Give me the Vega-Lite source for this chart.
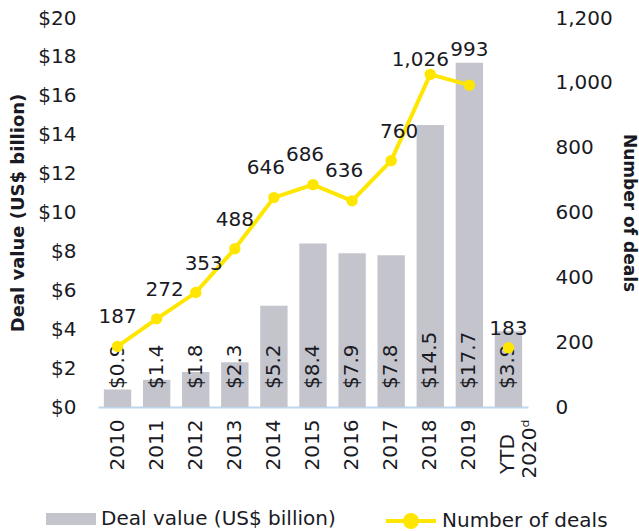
{
  "$schema": "https://vega.github.io/schema/vega-lite/v6.json",
  "width": 430,
  "height": 389,
  "autosize": {"type": "none"},
  "padding": {"left": 98, "top": 18, "right": 111, "bottom": 124},
  "background": "white",
  "config": {
    "view": {"stroke": null},
    "font": "DejaVu Sans",
    "axis": {"labelFont": "DejaVu Sans", "titleFont": "DejaVu Sans", "labelColor": "#1a1a24", "titleColor": "#1a1a24", "grid": false, "ticks": false},
    "legend": {"labelFont": "DejaVu Sans", "labelColor": "#1a1a24"},
    "text": {"fontSize": 20, "color": "#1a1a24"}
  },
  "data": {
    "values": [
      {"year": "2010", "value": 0.9, "deals": 187},
      {"year": "2011", "value": 1.4, "deals": 272},
      {"year": "2012", "value": 1.8, "deals": 353},
      {"year": "2013", "value": 2.3, "deals": 488},
      {"year": "2014", "value": 5.2, "deals": 646},
      {"year": "2015", "value": 8.4, "deals": 686},
      {"year": "2016", "value": 7.9, "deals": 636},
      {"year": "2017", "value": 7.8, "deals": 760},
      {"year": "2018", "value": 14.5, "deals": 1026},
      {"year": "2019", "value": 17.7, "deals": 993},
      {"year": "YTD 2020", "value": 3.9, "deals": 183}
    ]
  },
  "encoding": {
    "x": {
      "field": "year", "type": "ordinal", "sort": null,
      "scale": {"paddingInner": 0.3, "paddingOuter": 0.15},
      "axis": {
        "title": null, "labelAngle": -90, "labelAlign": "right", "labelBaseline": "middle",
        "labelFontSize": 20, "labelPadding": 12, "domainColor": "#bdd7ee", "domainWidth": 2,
        "labelExpr": "datum.value == 'YTD 2020' ? ['YTD\u2800', '2020ᵈ'] : datum.value"
      }
    }
  },
  "layer": [
    {
      "mark": {"type": "bar"},
      "encoding": {
        "y": {
          "field": "value", "type": "quantitative",
          "scale": {"domain": [0, 20], "nice": false},
          "axis": {
            "orient": "left", "title": "Deal value (US$ billion)", "values": [0,2,4,6,8,10,12,14,16,18,20],
            "format": "$.0f", "labelFontSize": 20, "labelPadding": 22, "domain": false,
            "titleFontSize": 18, "titleFontWeight": "bold", "titlePadding": 10
          }
        },
        "fill": {
          "datum": "Deal value (US$ billion)",
          "scale": {"range": ["#c4c4cc"]},
          "legend": {
            "title": null, "orient": "none", "legendX": -52, "legendY": 476, "padding": 0,
            "symbolType": "M-1,-0.24H1V0.24H-1Z", "symbolSize": 2500, "symbolStrokeWidth": 0,
            "labelFontSize": 20, "labelOffset": 5, "labelLimit": 400
          }
        }
      }
    },
    {
      "mark": {"type": "text", "angle": -90, "align": "left", "baseline": "middle", "dx": 18},
      "encoding": {
        "y": {"datum": 0, "type": "quantitative", "scale": {"domain": [0, 20], "nice": false}, "axis": null},
        "text": {"field": "value", "type": "quantitative", "format": "$.1f"}
      }
    },
    {
      "transform": [{"filter": "datum.year != 'YTD 2020'"}],
      "mark": {"type": "line", "strokeWidth": 4},
      "encoding": {
        "y": {
          "field": "deals", "type": "quantitative",
          "scale": {"domain": [0, 1200], "nice": false},
          "axis": {
            "orient": "right", "title": "Number of deals", "values": [0,200,400,600,800,1000,1200],
            "format": ",.0f", "labelFontSize": 20, "labelPadding": 27, "domain": false,
            "titleFontSize": 17, "titleFontWeight": "bold", "titlePadding": 7
          }
        },
        "stroke": {
          "datum": "Number of deals",
          "scale": {"range": ["#ffe600"]},
          "legend": {
            "title": null, "orient": "none", "legendX": 286, "legendY": 476, "padding": 0,
            "symbolType": "M-1,0H1M0.24,0A0.24,0.24 0 1 1 -0.24,0A0.24,0.24 0 1 1 0.24,0",
            "symbolSize": 2500, "symbolStrokeWidth": 4, "symbolFillColor": "#ffe600",
            "labelFontSize": 20, "labelOffset": 4, "labelLimit": 400
          }
        }
      }
    },
    {
      "mark": {"type": "point", "filled": true, "size": 130, "color": "#ffe600", "opacity": 1},
      "encoding": {
        "y": {"field": "deals", "type": "quantitative", "scale": {"domain": [0, 1200], "nice": false}, "axis": null}
      }
    },
    {
      "transform": [{"filter": {"field": "year", "oneOf": ["2010", "2013"]}}],
      "mark": {"type": "text", "dy": -29},
      "encoding": {
        "y": {"field": "deals", "type": "quantitative", "scale": {"domain": [0, 1200], "nice": false}, "axis": null},
        "text": {"field": "deals", "type": "quantitative", "format": ",.0f"}
      }
    },
    {
      "transform": [{"filter": {"field": "year", "oneOf": ["2011", "2012", "2017"]}}],
      "mark": {"type": "text", "dy": -29, "dx": 8},
      "encoding": {
        "y": {"field": "deals", "type": "quantitative", "scale": {"domain": [0, 1200], "nice": false}, "axis": null},
        "text": {"field": "deals", "type": "quantitative", "format": ",.0f"}
      }
    },
    {
      "transform": [{"filter": {"field": "year", "oneOf": ["2014", "2015", "2016"]}}],
      "mark": {"type": "text", "dy": -30, "dx": -8},
      "encoding": {
        "y": {"field": "deals", "type": "quantitative", "scale": {"domain": [0, 1200], "nice": false}, "axis": null},
        "text": {"field": "deals", "type": "quantitative", "format": ",.0f"}
      }
    },
    {
      "transform": [{"filter": {"field": "year", "equal": "2018"}}],
      "mark": {"type": "text", "dy": -14, "dx": -10},
      "encoding": {
        "y": {"field": "deals", "type": "quantitative", "scale": {"domain": [0, 1200], "nice": false}, "axis": null},
        "text": {"field": "deals", "type": "quantitative", "format": ",.0f"}
      }
    },
    {
      "transform": [{"filter": {"field": "year", "equal": "2019"}}],
      "mark": {"type": "text", "dy": -35},
      "encoding": {
        "y": {"field": "deals", "type": "quantitative", "scale": {"domain": [0, 1200], "nice": false}, "axis": null},
        "text": {"field": "deals", "type": "quantitative", "format": ",.0f"}
      }
    },
    {
      "transform": [{"filter": {"field": "year", "equal": "YTD 2020"}}],
      "mark": {"type": "text", "dy": -19},
      "encoding": {
        "y": {"field": "deals", "type": "quantitative", "scale": {"domain": [0, 1200], "nice": false}, "axis": null},
        "text": {"field": "deals", "type": "quantitative", "format": ",.0f"}
      }
    }
  ],
  "resolve": {"scale": {"y": "independent"}}
}
